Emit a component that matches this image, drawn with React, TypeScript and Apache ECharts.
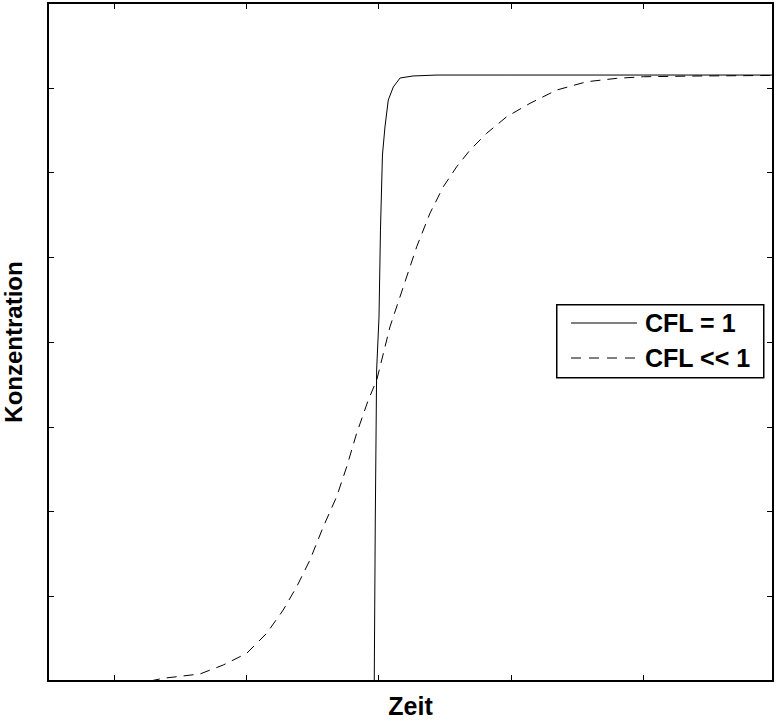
import React, { useEffect, useRef } from "react";
import * as echarts from "echarts";

// CFL = 1 (solid)
const solidX = [0.5, 2.966, 2.974, 2.984, 3.002, 3.013, 3.028, 3.047, 3.072, 3.11, 3.161, 3.259, 3.44, 4.0, 5.0, 5.98];
const solidY = [0, 0, 1.935, 3.67, 4.295, 5.32, 6.206, 6.537, 6.855, 7.009, 7.115, 7.139, 7.15, 7.15, 7.15, 7.15];

// CFL << 1 (dashed)
const dashX = [0.5, 1.271, 1.371, 1.649, 1.825, 2.002, 2.153, 2.278, 2.38, 2.48, 2.581, 2.682, 2.758, 2.833, 2.921, 2.985, 3.085, 3.186, 3.287, 3.387, 3.488, 3.589, 3.69, 3.816, 3.967, 4.143, 4.345, 4.572, 4.799, 5.0, 5.428, 5.98];
const dashY = [0, 0, 0.032, 0.083, 0.189, 0.327, 0.563, 0.838, 1.113, 1.428, 1.821, 2.175, 2.529, 2.923, 3.316, 3.552, 4.18, 4.652, 5.124, 5.519, 5.832, 6.068, 6.265, 6.463, 6.658, 6.816, 6.973, 7.071, 7.111, 7.13, 7.139, 7.145];

const xTicks = [1, 2, 3, 4, 5];
const legendNames = ["CFL = 1", "CFL << 1"];
const xName = "Zeit";
const yName = "Konzentration";

const FONT = "'Liberation Sans', Arial, sans-serif";

export default function App() {
  const ref = useRef<HTMLDivElement>(null);
  useEffect(() => {
    document.body.style.margin = "0";
    const chart = echarts.init(ref.current!, null, { renderer: "svg" });
    const mkAxisLine = () => ({ show: true, onZero: false, lineStyle: { color: "#000", width: 2 } });
    const mkX = (pos: string) => ({
      type: "value",
      gridIndex: 0,
      position: pos,
      min: 0.5,
      max: 5.98,
      splitLine: { show: false },
      axisLine: mkAxisLine(),
      axisLabel: { show: false },
      axisTick: {
        show: true,
        inside: true,
        length: 6,
        customValues: xTicks,
        lineStyle: { color: "#000", width: 1 },
      },
    });
    const mkY = (pos: string) => ({
      type: "value",
      gridIndex: 0,
      position: pos,
      min: 0,
      max: 8,
      interval: 1,
      splitLine: { show: false },
      axisLine: mkAxisLine(),
      axisLabel: { show: false },
      axisTick: { show: true, inside: true, length: 6, lineStyle: { color: "#000", width: 1 } },
    });
    chart.setOption({
      animation: false,
      backgroundColor: "#fff",
      grid: {
        left: 48,
        top: 3,
        right: 4,
        bottom: 41,
        containLabel: false,
        outerBoundsMode: "none",
        show: true,
        borderColor: "#000",
        borderWidth: 2,
        backgroundColor: "transparent",
      },
      xAxis: [
        {
          ...mkX("bottom"),
          name: xName,
          nameLocation: "middle",
          nameGap: 12,
          nameTextStyle: { fontFamily: FONT, fontWeight: "bold", fontSize: 25, color: "#000" },
        },
        mkX("top"),
      ],
      yAxis: [
        {
          ...mkY("left"),
          name: yName,
          nameLocation: "middle",
          nameGap: 23,
          nameRotate: 90,
          nameTextStyle: { fontFamily: FONT, fontWeight: "bold", fontSize: 24, color: "#000" },
        },
        mkY("right"),
      ],
      series: [
        {
          name: legendNames[0],
          type: "line",
          symbol: "none",
          data: solidX.map((x, i) => [x, solidY[i]]),
          lineStyle: { color: "#000", width: 1 },
        },
        {
          name: legendNames[1],
          type: "line",
          symbol: "none",
          data: dashX.map((x, i) => [x, dashY[i]]),
          lineStyle: { color: "#000", width: 1, type: [10, 7] },
        },
      ],
      graphic: [
        {
          type: "rect",
          left: 556,
          top: 304,
          shape: { width: 207, height: 73 },
          style: { fill: "#fff", stroke: "#000", lineWidth: 1.5 },
          z: 100,
        },
        {
          type: "line",
          shape: { x1: 571, y1: 323, x2: 637, y2: 323 },
          style: { stroke: "#000", lineWidth: 1 },
          z: 101,
        },
        {
          type: "line",
          shape: { x1: 571, y1: 358, x2: 637, y2: 358 },
          style: { stroke: "#000", lineWidth: 1, lineDash: [10, 8] },
          z: 101,
        },
        {
          type: "text",
          x: 645,
          y: 323,
          style: { text: legendNames[0], font: `bold 25px ${FONT}`, fill: "#000", verticalAlign: "middle" },
          z: 101,
        },
        {
          type: "text",
          x: 645,
          y: 358,
          style: { text: legendNames[1], font: `bold 25px ${FONT}`, fill: "#000", verticalAlign: "middle" },
          z: 101,
        },
      ],
    });
    return () => chart.dispose();
  }, []);
  return <div ref={ref} style={{ width: 777, height: 722 }} />;
}
